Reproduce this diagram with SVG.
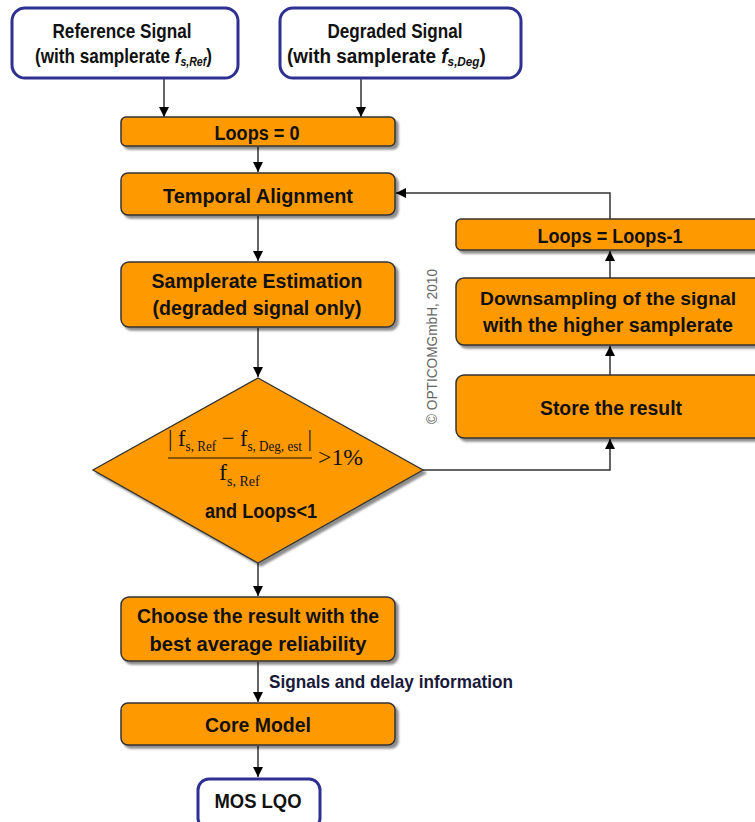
<svg xmlns="http://www.w3.org/2000/svg" width="755" height="822" viewBox="0 0 755 822">
<defs>
<marker id="ah" viewBox="0 0 10 10" refX="10" refY="5" markerWidth="10" markerHeight="10" markerUnits="userSpaceOnUse" orient="auto">
<path d="M0,0 L10,5 L0,10 z" fill="#000"/>
</marker>
<filter id="sh" x="-10%" y="-10%" width="130%" height="140%">
<feDropShadow dx="3" dy="3" stdDeviation="1" flood-color="#000" flood-opacity="0.45"/>
</filter>
</defs>
<style>
.box{fill:#FF9900;stroke:#333;stroke-width:1.5;filter:url(#sh)}
.io{fill:#fff;stroke:#2E3192;stroke-width:3}
.t{font-family:"Liberation Sans",Arial,sans-serif;font-weight:bold;font-size:21px;fill:#111;text-anchor:middle}
.ts{font-family:"Liberation Sans",Arial,sans-serif;font-weight:bold;font-size:21px;fill:#111}
.m{font-family:"Liberation Serif","Times New Roman",serif;fill:#111}
.c{fill:none;stroke:#333;stroke-width:1.5}
</style>
<rect width="755" height="822" fill="#fff"/>

<g id="connectors">
<path class="c" d="M164,79 V117" marker-end="url(#ah)"/>
<path class="c" d="M361,79 V117" marker-end="url(#ah)"/>
<path class="c" d="M258,147 V172" marker-end="url(#ah)"/>
<path class="c" d="M258,216 V261" marker-end="url(#ah)"/>
<path class="c" d="M258,328 V377" marker-end="url(#ah)"/>
<path class="c" d="M423,470 H610 V439" marker-end="url(#ah)"/>
<path class="c" d="M610,375 V346" marker-end="url(#ah)"/>
<path class="c" d="M610,278 V251" marker-end="url(#ah)"/>
<path class="c" d="M610,219 V193 H396" marker-end="url(#ah)"/>
<path class="c" d="M258,563 V596" marker-end="url(#ah)"/>
<path class="c" d="M258,662 V702" marker-end="url(#ah)"/>
<path class="c" d="M258,746 V777" marker-end="url(#ah)"/>
</g>

<g id="ref">
<rect class="io" x="12" y="8" width="226" height="70" rx="13"/>
<text class="t" x="122" y="38" textLength="139" lengthAdjust="spacingAndGlyphs">Reference Signal</text>
<text class="ts" transform="translate(35,63) scale(0.815,1)" x="0" y="0">(with samplerate <tspan font-style="italic">f<tspan font-size="13" dy="3">s,Ref</tspan></tspan><tspan dy="-3">)</tspan></text>
</g>
<g id="deg">
<rect class="io" x="280" y="8" width="241" height="70" rx="13"/>
<text class="t" x="395" y="38" textLength="135" lengthAdjust="spacingAndGlyphs">Degraded Signal</text>
<text class="ts" transform="translate(287,63) scale(0.9,1)" x="0" y="0">(with samplerate <tspan font-style="italic">f<tspan font-size="13" dy="3">s,Deg</tspan></tspan><tspan dy="-3">)</tspan></text>
</g>

<g id="loops0">
<rect class="box" x="121" y="117" width="274" height="29" rx="5"/>
<text class="t" x="257" y="140" textLength="85" lengthAdjust="spacingAndGlyphs">Loops = 0</text>
</g>
<g id="temporal">
<rect class="box" x="121" y="173" width="274" height="42" rx="7"/>
<text class="t" x="258" y="203" textLength="190" lengthAdjust="spacingAndGlyphs">Temporal Alignment</text>
</g>
<g id="samplerate">
<rect class="box" x="121" y="262" width="274" height="65" rx="8"/>
<text class="t" x="257" y="288" textLength="211" lengthAdjust="spacingAndGlyphs">Samplerate Estimation</text>
<text class="t" x="257" y="315" textLength="209" lengthAdjust="spacingAndGlyphs">(degraded signal only)</text>
</g>

<g id="decision">
<polygon points="258,378 423,470 258,563 93,470" fill="#FF9900" stroke="#333" stroke-width="1.3" filter="url(#sh)"/>
<text class="m" transform="translate(168,446) scale(0.935,1)" x="0" y="0" font-size="24">| f<tspan font-size="14" dy="5">s, Ref</tspan><tspan dy="-5"> − f</tspan><tspan font-size="14" dy="5">s, Deg, est</tspan><tspan dy="-5"> |</tspan></text>
<line x1="168" y1="458" x2="312" y2="458" stroke="#111" stroke-width="1.2"/>
<text class="m" x="219" y="480" font-size="24">f<tspan font-size="14" dy="6">s, Ref</tspan></text>
<text class="m" x="318" y="465" font-size="24" textLength="45" lengthAdjust="spacingAndGlyphs">&gt;1%</text>
<text class="t" x="261" y="518" textLength="112" lengthAdjust="spacingAndGlyphs">and Loops&lt;1</text>
</g>

<g id="store">
<rect class="box" x="456" y="375" width="310" height="63" rx="8"/>
<text class="t" x="611" y="415" textLength="142" lengthAdjust="spacingAndGlyphs">Store the result</text>
</g>
<g id="downsampling">
<rect class="box" x="456" y="278" width="310" height="67" rx="8"/>
<text class="t" x="608" y="305" font-size="19" style="font-size:19px" textLength="256" lengthAdjust="spacingAndGlyphs">Downsampling of the signal</text>
<text class="t" x="608" y="332" font-size="20" style="font-size:20px" textLength="250" lengthAdjust="spacingAndGlyphs">with the higher samplerate</text>
</g>
<g id="loopsdec">
<rect class="box" x="456" y="219" width="310" height="31" rx="5"/>
<text class="t" x="610" y="243" textLength="145" lengthAdjust="spacingAndGlyphs">Loops = Loops-1</text>
</g>

<text x="437" y="424" transform="rotate(-90 437 424)" font-family="'Liberation Sans',Arial,sans-serif" font-size="14" fill="#666" textLength="155" lengthAdjust="spacingAndGlyphs">© OPTICOMGmbH, 2010</text>

<g id="choose">
<rect class="box" x="121" y="597" width="274" height="64" rx="8"/>
<text class="t" x="258" y="623" textLength="242" lengthAdjust="spacingAndGlyphs">Choose the result with the</text>
<text class="t" x="258" y="651" textLength="217" lengthAdjust="spacingAndGlyphs">best average reliability</text>
</g>
<text x="269" y="688" font-family="'Liberation Sans',Arial,sans-serif" font-weight="bold" font-size="19" fill="#1a1a3a" textLength="244" lengthAdjust="spacingAndGlyphs">Signals and delay information</text>
<g id="core">
<rect class="box" x="121" y="703" width="274" height="42" rx="7"/>
<text class="t" x="258" y="732" textLength="106" lengthAdjust="spacingAndGlyphs">Core Model</text>
</g>
<g id="mos">
<rect class="io" x="198" y="779" width="122" height="50" rx="11"/>
<text class="t" x="258" y="808" textLength="87" lengthAdjust="spacingAndGlyphs">MOS LQO</text>
</g>
</svg>
